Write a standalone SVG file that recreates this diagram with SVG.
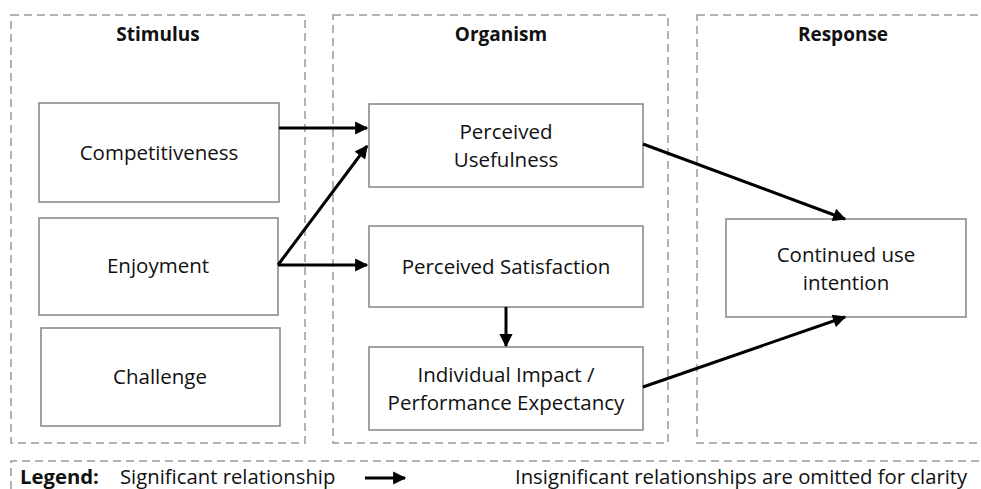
<svg xmlns="http://www.w3.org/2000/svg" width="981" height="489" viewBox="0 0 981 489">
  <style>
    .panel { fill: none; stroke: #9a9a9a; stroke-width: 1.5; stroke-dasharray: 8 5; }
    .box { fill: #ffffff; stroke: #8c8c8c; stroke-width: 1.6; }
    .lbl { font-family: "Open Sans", "Noto Sans", sans-serif; font-size: 20.5px; fill: #111; text-anchor: middle; }
    .ttl { font-family: "Open Sans", "Noto Sans", sans-serif; font-size: 19px; font-weight: bold; fill: #111; text-anchor: middle; }
    .leg { font-family: "Open Sans", "Noto Sans", sans-serif; font-size: 20.3px; fill: #111; }
    .edge { fill: none; stroke: #000; stroke-width: 3; marker-end: url(#head); }
  </style>
  <defs>
    <marker id="head" viewBox="0 0 10 10" refX="9" refY="5" markerWidth="5" markerHeight="4.4" markerUnits="strokeWidth" orient="auto">
      <path d="M0,0 L10,5 L0,10 Z" fill="#000"/>
    </marker>
  </defs>
  <rect width="981" height="489" fill="#ffffff"/>

  <!-- column panels -->
  <g id="panel-stimulus">
    <rect class="panel" x="11" y="15" width="294" height="428"/>
    <text class="ttl" x="158" y="41">Stimulus</text>
  </g>
  <g id="panel-organism">
    <rect class="panel" x="333" y="15" width="335" height="428"/>
    <text class="ttl" x="501" y="41">Organism</text>
  </g>
  <g id="panel-response">
    <rect class="panel" x="697" y="15" width="290" height="428"/>
    <text class="ttl" x="843" y="41">Response</text>
  </g>

  <!-- nodes -->
  <g id="competitiveness">
    <rect class="box" x="39" y="103" width="240" height="99"/>
    <text class="lbl" x="159" y="160">Competitiveness</text>
  </g>
  <g id="enjoyment">
    <rect class="box" x="39" y="218" width="239" height="97"/>
    <text class="lbl" x="158" y="273">Enjoyment</text>
  </g>
  <g id="challenge">
    <rect class="box" x="41" y="328" width="239" height="98"/>
    <text class="lbl" x="160" y="384">Challenge</text>
  </g>
  <g id="perceived-usefulness">
    <rect class="box" x="369" y="104" width="274" height="83"/>
    <text class="lbl" x="506" y="139">Perceived</text>
    <text class="lbl" x="506" y="167">Usefulness</text>
  </g>
  <g id="perceived-satisfaction">
    <rect class="box" x="369" y="226" width="274" height="81"/>
    <text class="lbl" x="506" y="274">Perceived Satisfaction</text>
  </g>
  <g id="individual-impact">
    <rect class="box" x="369" y="347" width="274" height="83"/>
    <text class="lbl" x="506" y="382">Individual Impact /</text>
    <text class="lbl" x="506" y="410">Performance Expectancy</text>
  </g>
  <g id="continued-use">
    <rect class="box" x="726" y="219" width="240" height="98"/>
    <text class="lbl" x="846" y="262">Continued use</text>
    <text class="lbl" x="846" y="290">intention</text>
  </g>

  <!-- connectors -->
  <g id="connectors">
    <line class="edge" x1="279" y1="128" x2="367" y2="128"/>
    <line class="edge" x1="278" y1="265" x2="367" y2="146"/>
    <line class="edge" x1="278" y1="265" x2="367" y2="265"/>
    <line class="edge" x1="506" y1="307" x2="506" y2="346"/>
    <line class="edge" x1="643" y1="144" x2="845" y2="219"/>
    <line class="edge" x1="643" y1="387" x2="845" y2="317"/>
  </g>

  <!-- legend -->
  <g id="legend">
    <path class="panel" d="M11,489 V461 H987"/>
    <text class="leg" x="20" y="484" font-weight="bold">Legend:</text>
    <text class="leg" x="120" y="484">Significant relationship</text>
    <line class="edge" x1="365" y1="478" x2="405" y2="478"/>
    <text class="leg" x="515" y="484">Insignificant relationships are omitted for clarity</text>
  </g>
</svg>
